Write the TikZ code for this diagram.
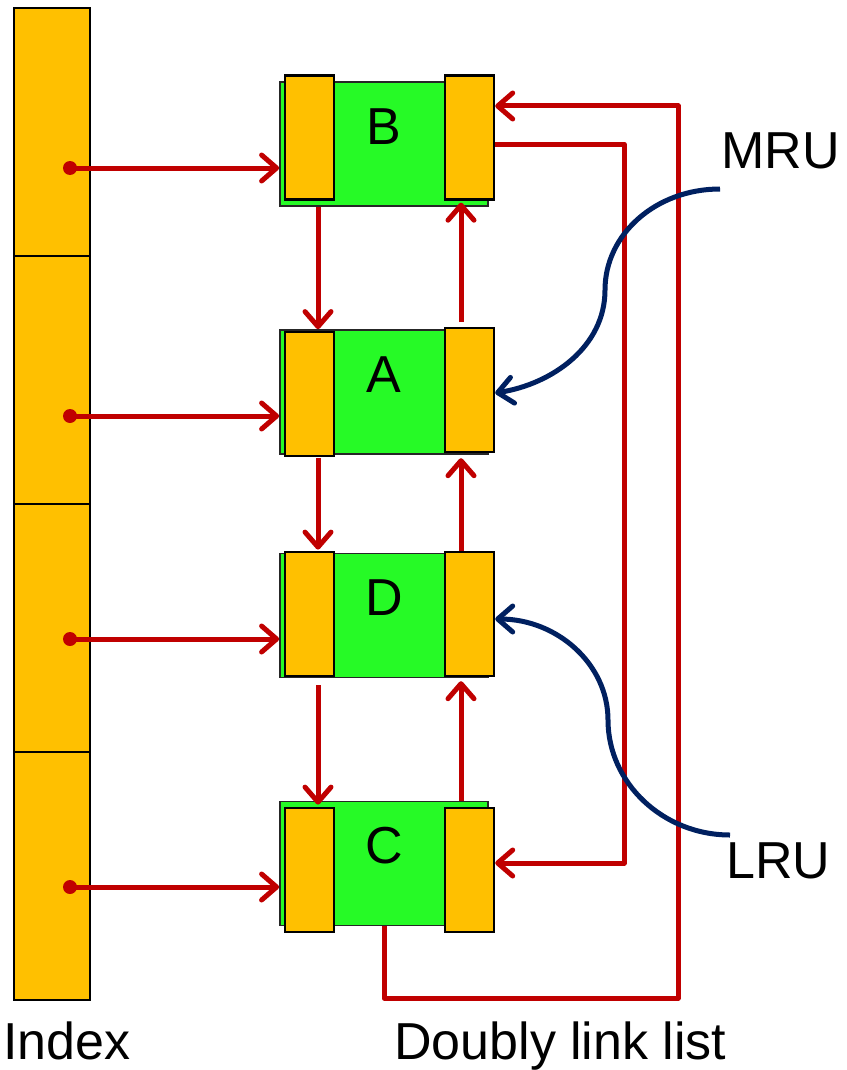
\documentclass[tikz,border=0pt]{standalone}
\usepackage{fontspec}
\setmainfont{Liberation Sans}
\usetikzlibrary{arrows.meta}

\definecolor{slotorange}{HTML}{FFC000}
\definecolor{itemgreen}{HTML}{26FA26}
\definecolor{linkred}{HTML}{C00000}
\definecolor{ptrblue}{HTML}{002060}
\newcommand\diagfont{\fontsize{52pt}{60pt}\selectfont}

\tikzset{
  cell/.style={draw=black, line width=1.8pt, fill=slotorange, minimum width=76pt, minimum height=248pt, inner sep=0pt},
  item/.style={draw=black!85, line width=1.8pt, fill=itemgreen, minimum width=208pt, minimum height=124pt, inner sep=0pt, text height=37pt, text depth=37pt, font=\diagfont},
  slot/.style={draw=black, line width=2.4pt, fill=slotorange, minimum width=49pt, minimum height=124pt, inner sep=0pt},
  link/.style={draw=linkred, line width=5pt, line join=round, -{Straight Barb[length=15pt,width=26pt,round]}},
  ptr/.style={draw=ptrblue, line width=5pt, -{Straight Barb[length=15pt,width=26pt,round]}},
  caption/.style={anchor=base west, inner sep=0pt, font=\diagfont}
}

\begin{document}
\begin{tikzpicture}[x=1pt,y=-1pt]
\useasboundingbox (0,0) rectangle (846,1070);

% index
\node[cell] (idx1) at (52,132) {};
\node[cell] (idx2) at (52,380) {};
\node[cell] (idx3) at (52,628) {};
\node[cell] (idx4) at (52,876) {};

% list items
\node[item] (B) at (384,144) {B};
\node[item] (A) at (384,392) {A};
\node[item] (D) at (384,615.5) {D};
\node[item] (C) at (384,863.5) {C};

\node[slot] (Bl) at (309.5,137.5) {};
\node[slot] (Br) at (469.5,137.5) {};
\node[slot] (Al) at (309.5,394) {};
\node[slot] (Ar) at (469.5,390) {};
\node[slot] (Dl) at (309.5,614) {};
\node[slot] (Dr) at (469.5,614) {};
\node[slot] (Cl) at (309.5,870) {};
\node[slot] (Cr) at (469.5,870) {};

% index -> items
\coordinate (pB) at (70,168);
\coordinate (pA) at (70,416);
\coordinate (pD) at (70,639);
\coordinate (pC) at (70,887);
\draw[link] (pB) -- (pB -| B.west);
\draw[link] (pA) -- (pA -| A.west);
\draw[link] (pD) -- (pD -| D.west);
\draw[link] (pC) -- (pC -| C.west);
\fill[linkred] (pB) circle (7pt);
\fill[linkred] (pA) circle (7pt);
\fill[linkred] (pD) circle (7pt);
\fill[linkred] (pC) circle (7pt);

% next
\draw[link] ([xshift=-66pt]B.south) -- ([xshift=-66pt]A.north);
\draw[link] ([xshift=-66pt,yshift=-3pt]A.south) -- ([xshift=-66pt,yshift=3pt]D.north);
\draw[link] ([xshift=-66pt,yshift=-7pt]D.south) -- ([xshift=-66pt,yshift=-4pt]C.north);

% prev
\draw[link] ([xshift=-8.5pt,yshift=5pt]Ar.north) -- ([xshift=-8.5pt,yshift=-2pt]Br.south);
\draw[link] ([xshift=-8.5pt]Dr.north) -- ([xshift=-8.5pt,yshift=-5pt]Ar.south);
\draw[link] ([xshift=77pt]C.north) -- ([xshift=-8.5pt,yshift=-4pt]Dr.south);

% wrap round
\coordinate (cornerLow) at (678,998);
\coordinate (cornerMid) at (624,863);
\draw[link] (C.south) |- (cornerLow) |- ([yshift=31.5pt]Br.east);
\draw[link] ([yshift=-6.5pt]Br.east) -| (cornerMid) -- ([yshift=7pt]Cr.east);

% MRU / LRU
\node[caption] (mru) at (721,168) {MRU};
\node[caption] (lru) at (726,878) {LRU};
\coordinate (mruTail) at (720,189);
\coordinate (lruTail) at (730,835);
\draw[ptr] (mruTail) .. controls (656,189) and (605,234) .. (605,290)
  .. controls (605,347) and (552,384) .. ([yshift=-3pt]Ar.east);
\draw[ptr] (lruTail) .. controls (663,835) and (608,783) .. (608,720)
  .. controls (608,664) and (557,619) .. ([yshift=-5pt]Dr.east);

\node[caption] (index) at (3,1059) {Index};
\node[caption] (dll) at (394,1059) {Doubly link list};
\end{tikzpicture}
\end{document}
